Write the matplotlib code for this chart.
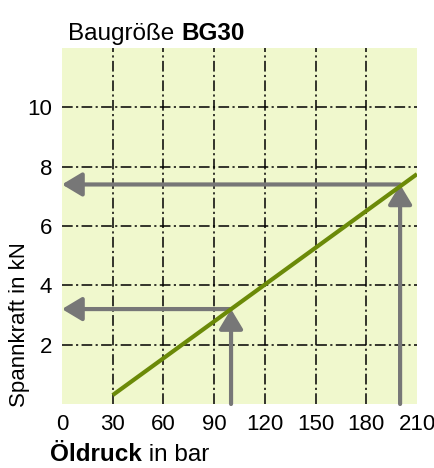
import matplotlib
matplotlib.use("Agg")
import matplotlib.pyplot as plt

plt.rcParams['font.family'] = ['Liberation Sans', 'DejaVu Sans']

# Data
x_ticks = [0, 30, 60, 90, 120, 150, 180, 210]
y_ticks = [2, 4, 6, 8, 10]
x_grid = [30, 60, 90, 120, 150, 180]
y_grid = [2, 4, 6, 8, 10]
line_x = [30, 210]
line_y = [0.3, 7.75]
arrow_x = [100, 200]
arrow_y = [3.2, 7.4]

bg = '#f0f8cd'
green = '#6b8a08'
gray = '#777777'

fig = plt.figure(figsize=(4.35, 4.68), dpi=100)
ax = fig.add_axes([62/435, 1-404/468, (417-62)/435, (404-48)/468])
ax.set_facecolor(bg)
ax.set_xlim(0, 210)
ax.set_ylim(0, 12)
for s in ax.spines.values():
    s.set_visible(False)

ls = (0, (7, 2.2, 1.4, 2.2))
for xv in x_grid:
    ax.axvline(xv, color='black', lw=1.1, ls=ls, zorder=1)
for yv in y_grid:
    ax.axhline(yv, color='black', lw=1.1, ls=ls, zorder=1)

ax.plot(line_x, line_y, color=green, lw=3, solid_capstyle='butt', zorder=3)

style = '-|>,head_length=0.6,head_width=0.36'
for xa, ya in zip(arrow_x, arrow_y):
    ax.annotate('', xy=(xa, ya), xytext=(xa, 0),
                arrowprops=dict(arrowstyle=style, mutation_scale=20, lw=3,
                                color=gray, shrinkA=0, shrinkB=0),
                zorder=2)
    ax.annotate('', xy=(0, ya), xytext=(xa, ya),
                arrowprops=dict(arrowstyle=style, mutation_scale=20, lw=3,
                                color=gray, shrinkA=0, shrinkB=0),
                zorder=2)

ax.set_xticks(x_ticks)
ax.set_yticks(y_ticks)
ax.tick_params(length=0, labelsize=16, pad=7)

fig.text(20/435, 1-325/468, 'Spannkraft in kN', fontsize=16, rotation=90,
         ha='center', va='center')

renderer = fig.canvas.get_renderer()

def two_part(x, y, first, second, first_bold, size):
    t1 = fig.text(x, y, first, fontsize=size, ha='left', va='baseline',
                  fontweight='bold' if first_bold else 'normal')
    bb = t1.get_window_extent(renderer=renderer)
    x2 = bb.x1 / fig.bbox.width
    fig.text(x2, y, second, fontsize=size, ha='left', va='baseline',
             fontweight='normal' if first_bold else 'bold')

two_part(68/435, 1-40/468, 'Baugröße ', 'BG30', False, 17.5)
two_part(50/435, 1-461/468, 'Öldruck', ' in bar', True, 17.5)

fig.savefig('out.png', dpi=100)
